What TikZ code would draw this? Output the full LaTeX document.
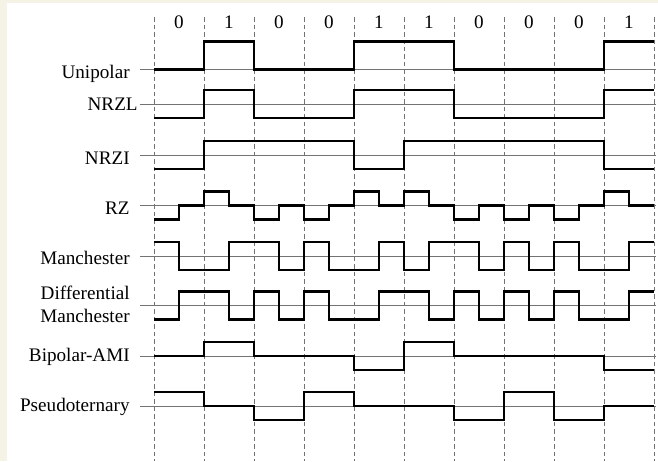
\documentclass[tikz,border=0pt]{standalone}
\usepackage{fontspec}
\setmainfont{Liberation Serif}
\usepackage{tikz}
\definecolor{paper}{RGB}{244,243,230}
% one waveform: zero line y, first level, levels per half bit
\newcommand{\wave}[3]{\draw[sig] (154,{#1-14*#2}) \foreach \l [count=\i] in {#3} {|- (154+25*\i,{#1-14*\l})};}

\begin{document}
\begin{tikzpicture}[x=0.02cm, y=-0.02cm, font=\fontsize{10.9}{13}\selectfont,
		sig/.style={line width=1.5pt, line join=miter},
		zeroline/.style={line width=0.55pt, color=black!55},
		slot/.style={line width=0.55pt, color=black!55, dash pattern=on 0.09cm off 0.06cm},
		lbl/.style={anchor=base east, inner sep=0pt}]
			%%%%% START %%%%%
			
			\fill[paper] (0,0) rectangle (658,461);
			\fill[white] (7,3) rectangle (658,461);
			\useasboundingbox (0,0) rectangle (658,461);
			
			\foreach \k in {0,...,10} \draw[slot] (154+50*\k,17) -- (154+50*\k,461);
			\foreach \b [count=\k from 0] in {0,1,0,0,1,1,0,0,0,1}
				\node[anchor=base, inner sep=0pt] (bit\k) at (179+50*\k,28) {\b};
			
			\node[lbl] (unipolar) at (130,78) {Unipolar};
			\draw[zeroline] (140,69.5) -- (656,69.5);
			\wave{69.5}{0}{0,0,2,2,0,0,0,0,2,2,2,2,0,0,0,0,0,0,2,2}
			
			\node[lbl] (nrzl) at (138,110) {NRZL};
			\draw[zeroline] (140,104) -- (656,104);
			\wave{104}{-1}{-1,-1,1,1,-1,-1,-1,-1,1,1,1,1,-1,-1,-1,-1,-1,-1,1,1}
			
			\node[lbl] (nrzi) at (130,164) {NRZI};
			\draw[zeroline] (140,155) -- (656,155);
			\wave{155}{-1}{-1,-1,1,1,1,1,1,1,-1,-1,1,1,1,1,1,1,1,1,-1,-1}
			
			\node[lbl] (rz) at (130,214) {RZ};
			\draw[zeroline] (140,205.5) -- (656,205.5);
			\wave{205.5}{-1}{-1,0,1,0,-1,0,-1,0,1,0,1,0,-1,0,-1,0,-1,0,1,0}
			
			\node[lbl] (manch) at (130,264) {Manchester};
			\draw[zeroline] (140,256) -- (656,256);
			\wave{256}{1}{1,-1,-1,1,1,-1,1,-1,-1,1,-1,1,1,-1,1,-1,1,-1,-1,1}
			
			\node[anchor=east, inner sep=0pt, align=right] (diffmanch) at (130,304.5) {Differential\\Manchester};
			\draw[zeroline] (140,305.5) -- (656,305.5);
			\wave{305.5}{-1}{-1,1,1,-1,1,-1,1,-1,-1,1,1,-1,1,-1,1,-1,1,-1,-1,1}
			
			\node[lbl] (ami) at (130,361) {Bipolar-AMI};
			\draw[zeroline] (140,356) -- (656,356);
			\wave{356}{0}{0,0,1,1,0,0,0,0,-1,-1,1,1,0,0,0,0,0,0,-1,-1}
			
			\node[lbl] (pseudo) at (130,411.5) {Pseudoternary};
			\draw[zeroline] (140,406) -- (656,406);
			\wave{406}{1}{1,1,0,0,-1,-1,1,1,0,0,0,0,-1,-1,1,1,-1,-1,0,0}
			
			%%%%% END %%%%%
		\end{tikzpicture}
\end{document}
